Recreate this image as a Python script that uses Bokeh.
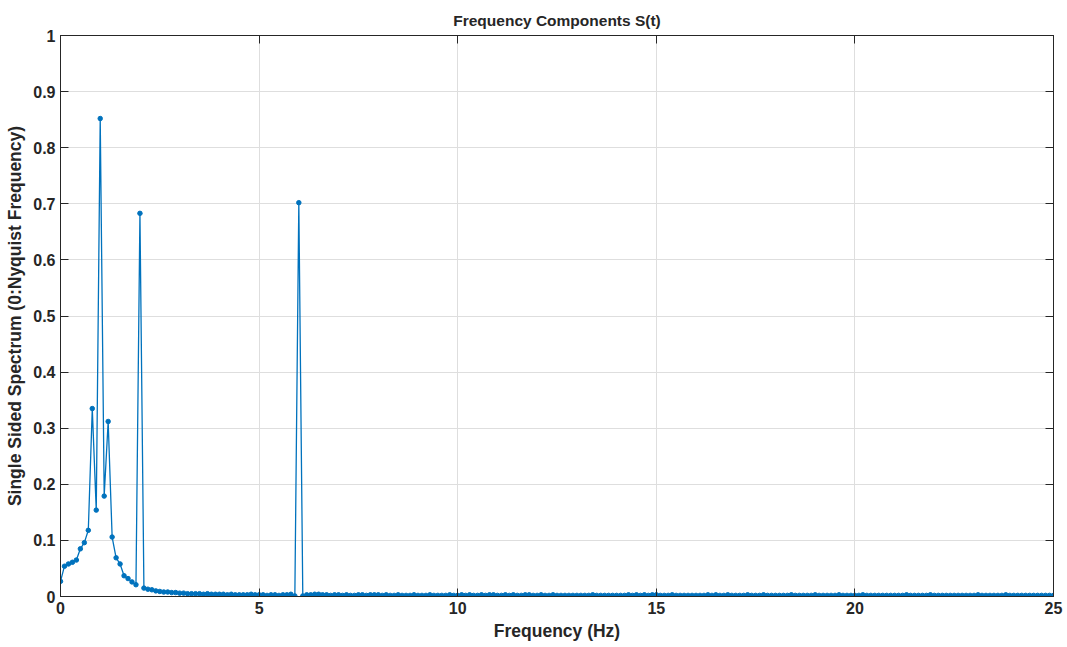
from bokeh.plotting import figure
from bokeh.models import LinearAxis, FixedTicker, Range1d, ColumnDataSource
from bokeh.embed import file_html
from bokeh.resources import INLINE

# Frequency bins (Hz), 0.1 Hz resolution from 0 to 25
freq_step = 0.1

# Single-sided spectrum amplitude per bin
spectrum = [
    0.027, 0.054, 0.058, 0.061, 0.065, 0.085, 0.096, 0.118, 0.335, 0.154,  # 0.0-0.9
    0.852, 0.179, 0.312, 0.106, 0.069, 0.058, 0.037, 0.032, 0.026, 0.021,  # 1.0-1.9
    0.683, 0.015, 0.013, 0.012, 0.010, 0.009, 0.008, 0.008, 0.007, 0.007,  # 2.0-2.9
    0.006, 0.006, 0.005, 0.005, 0.005, 0.005, 0.004, 0.005, 0.004, 0.004,  # 3.0-3.9
    0.004, 0.004, 0.003, 0.004, 0.003, 0.003, 0.003, 0.003, 0.004, 0.003,  # 4.0-4.9
    0.003, 0.003, 0.002, 0.003, 0.003, 0.002, 0.003, 0.003, 0.004, 0.001,  # 5.0-5.9
    0.702, 0.001, 0.003, 0.003, 0.004, 0.004, 0.003, 0.003, 0.002, 0.003,  # 6.0-6.9
    0.003, 0.002, 0.003, 0.002, 0.002, 0.003, 0.003, 0.002, 0.003, 0.003,  # 7.0-7.9
    0.003, 0.002, 0.003, 0.002, 0.002, 0.003, 0.002, 0.002, 0.002, 0.003,  # 8.0-8.9
    0.002, 0.002, 0.002, 0.003, 0.002, 0.002, 0.002, 0.002, 0.003, 0.002,  # 9.0-9.9
    0.002, 0.003, 0.002, 0.003, 0.002, 0.002, 0.003, 0.002, 0.003, 0.003,  # 10.0-10.9
    0.002, 0.002, 0.003, 0.002, 0.003, 0.002, 0.002, 0.003, 0.003, 0.002,  # 11.0-11.9
    0.002, 0.003, 0.002, 0.002, 0.003, 0.002, 0.002, 0.002, 0.002, 0.002,  # 12.0-12.9
    0.002, 0.002, 0.002, 0.002, 0.003, 0.002, 0.002, 0.002, 0.002, 0.002,  # 13.0-13.9
    0.002, 0.002, 0.002, 0.003, 0.002, 0.003, 0.002, 0.003, 0.002, 0.003,  # 14.0-14.9
    0.003, 0.002, 0.002, 0.002, 0.003, 0.002, 0.002, 0.002, 0.002, 0.002,  # 15.0-15.9
    0.002, 0.002, 0.002, 0.003, 0.002, 0.003, 0.002, 0.002, 0.003, 0.002,  # 16.0-16.9
    0.002, 0.002, 0.002, 0.003, 0.002, 0.002, 0.002, 0.003, 0.002, 0.002,  # 17.0-17.9
    0.002, 0.002, 0.002, 0.002, 0.003, 0.002, 0.002, 0.002, 0.002, 0.002,  # 18.0-18.9
    0.003, 0.002, 0.002, 0.002, 0.002, 0.002, 0.003, 0.002, 0.002, 0.002,  # 19.0-19.9
    0.002, 0.002, 0.003, 0.002, 0.002, 0.002, 0.002, 0.002, 0.002, 0.002,  # 20.0-20.9
    0.002, 0.002, 0.002, 0.003, 0.002, 0.002, 0.002, 0.002, 0.002, 0.003,  # 21.0-21.9
    0.002, 0.002, 0.002, 0.002, 0.002, 0.002, 0.002, 0.002, 0.002, 0.002,  # 22.0-22.9
    0.002, 0.003, 0.002, 0.002, 0.002, 0.002, 0.002, 0.002, 0.003, 0.002,  # 23.0-23.9
    0.002, 0.002, 0.002, 0.002, 0.002, 0.002, 0.002, 0.002, 0.002, 0.002,  # 24.0-24.9
    0.002,                                                                 # 25.0
]
frequency = [round(i * freq_step, 1) for i in range(len(spectrum))]

x_ticks = [0, 5, 10, 15, 20, 25]
y_ticks = [0, 0.1, 0.2, 0.3, 0.4, 0.5, 0.6, 0.7, 0.8, 0.9, 1]
y_tick_labels = {0: "0", 0.1: "0.1", 0.2: "0.2", 0.3: "0.3", 0.4: "0.4", 0.5: "0.5",
                 0.6: "0.6", 0.7: "0.7", 0.8: "0.8", 0.9: "0.9", 1: "1"}

FONT = "Liberation Sans"
LINE_COLOR = "#0072BD"
TEXT_COLOR = "#262626"

src = ColumnDataSource(dict(f=frequency, s=spectrum))

p = figure(width=1067, height=647, output_backend="svg", toolbar_location=None,
           x_range=Range1d(0, 25), y_range=Range1d(0, 1),
           min_border_left=60, min_border_right=14, min_border_top=35, min_border_bottom=51,
           x_axis_label="Frequency (Hz)",
           y_axis_label="Single Sided Spectrum (0:Nyquist Frequency)")

p.title.text = "Frequency Components S(t)"
p.title.align = "center"
p.title.text_font = FONT
p.title.text_font_style = "bold"
p.title.text_font_size = "15.5px"
p.title.text_color = TEXT_COLOR
p.title.offset = 0
p.title.standoff = 14

p.outline_line_color = TEXT_COLOR
p.outline_line_width = 1
p.background_fill_color = "white"
p.border_fill_color = "white"

for ax in (p.xaxis[0], p.yaxis[0]):
    ax.axis_label_text_font = FONT
    ax.axis_label_text_font_style = "bold"
    ax.axis_label_text_font_size = "17.5px"
    ax.axis_label_text_color = TEXT_COLOR
    ax.major_label_text_font = FONT
    ax.major_label_text_font_style = "bold"
    ax.major_label_text_font_size = "16px"
    ax.major_label_text_color = TEXT_COLOR
    ax.major_tick_in = 8
    ax.major_tick_out = 0
    ax.minor_tick_in = 0
    ax.minor_tick_out = 0
    ax.axis_line_color = TEXT_COLOR
    ax.major_tick_line_color = TEXT_COLOR

p.xaxis[0].ticker = FixedTicker(ticks=x_ticks)
p.yaxis[0].ticker = FixedTicker(ticks=y_ticks)
p.yaxis[0].major_label_overrides = y_tick_labels
p.xaxis[0].major_label_standoff = 5
p.yaxis[0].major_label_standoff = 5
p.xaxis[0].axis_label_standoff = 4
p.yaxis[0].axis_label_standoff = 5

for loc, tk in (("right", y_ticks), ("above", x_ticks)):
    ax = LinearAxis(ticker=FixedTicker(ticks=tk))
    ax.major_label_overrides = {t: "" for t in tk}
    ax.major_label_text_font_size = "1px"
    ax.major_tick_in = 8
    ax.major_tick_out = 0
    ax.minor_tick_in = 0
    ax.minor_tick_out = 0
    ax.axis_line_color = TEXT_COLOR
    ax.major_tick_line_color = TEXT_COLOR
    ax.major_label_standoff = 0
    p.add_layout(ax, loc)

p.xgrid.ticker = FixedTicker(ticks=x_ticks)
p.ygrid.ticker = FixedTicker(ticks=y_ticks)
p.grid.grid_line_color = "#dedede"
p.grid.grid_line_width = 1

p.line("f", "s", source=src, line_color=LINE_COLOR, line_width=1.3)
p.scatter("f", "s", source=src, size=4.5, fill_color=LINE_COLOR, line_color=LINE_COLOR)

open("out.html", "w").write(file_html(p, INLINE))
